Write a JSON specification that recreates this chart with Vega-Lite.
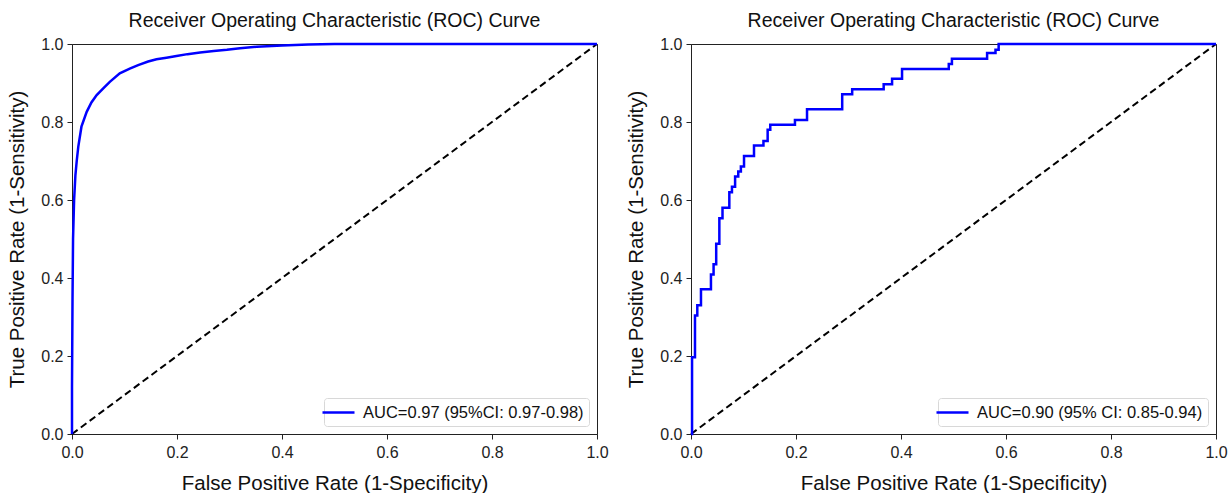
{
  "$schema": "https://vega.github.io/schema/vega-lite/v6.json",
  "background": "white",
  "padding": {"left": 7, "top": 10, "right": 2, "bottom": 0},
  "spacing": 17,
  "datasets": {
    "diag": [{"fpr": 0, "tpr": 0}, {"fpr": 1, "tpr": 1}],
    "left_roc": [
      {"fpr": 0, "tpr": 0, "series": "AUC=0.97 (95%CI: 0.97-0.98)"},
      {"fpr": 0, "tpr": 0.12, "series": "AUC=0.97 (95%CI: 0.97-0.98)"},
      {"fpr": 0.001, "tpr": 0.35, "series": "AUC=0.97 (95%CI: 0.97-0.98)"},
      {"fpr": 0.002, "tpr": 0.5, "series": "AUC=0.97 (95%CI: 0.97-0.98)"},
      {"fpr": 0.004, "tpr": 0.6, "series": "AUC=0.97 (95%CI: 0.97-0.98)"},
      {"fpr": 0.0065, "tpr": 0.664, "series": "AUC=0.97 (95%CI: 0.97-0.98)"},
      {"fpr": 0.009, "tpr": 0.7, "series": "AUC=0.97 (95%CI: 0.97-0.98)"},
      {"fpr": 0.012, "tpr": 0.737, "series": "AUC=0.97 (95%CI: 0.97-0.98)"},
      {"fpr": 0.018, "tpr": 0.788, "series": "AUC=0.97 (95%CI: 0.97-0.98)"},
      {"fpr": 0.028, "tpr": 0.826, "series": "AUC=0.97 (95%CI: 0.97-0.98)"},
      {"fpr": 0.037, "tpr": 0.85, "series": "AUC=0.97 (95%CI: 0.97-0.98)"},
      {"fpr": 0.047, "tpr": 0.869, "series": "AUC=0.97 (95%CI: 0.97-0.98)"},
      {"fpr": 0.06, "tpr": 0.887, "series": "AUC=0.97 (95%CI: 0.97-0.98)"},
      {"fpr": 0.072, "tpr": 0.903, "series": "AUC=0.97 (95%CI: 0.97-0.98)"},
      {"fpr": 0.091, "tpr": 0.925, "series": "AUC=0.97 (95%CI: 0.97-0.98)"},
      {"fpr": 0.11, "tpr": 0.937, "series": "AUC=0.97 (95%CI: 0.97-0.98)"},
      {"fpr": 0.126, "tpr": 0.946, "series": "AUC=0.97 (95%CI: 0.97-0.98)"},
      {"fpr": 0.145, "tpr": 0.955, "series": "AUC=0.97 (95%CI: 0.97-0.98)"},
      {"fpr": 0.161, "tpr": 0.961, "series": "AUC=0.97 (95%CI: 0.97-0.98)"},
      {"fpr": 0.18, "tpr": 0.965, "series": "AUC=0.97 (95%CI: 0.97-0.98)"},
      {"fpr": 0.199, "tpr": 0.969, "series": "AUC=0.97 (95%CI: 0.97-0.98)"},
      {"fpr": 0.22, "tpr": 0.974, "series": "AUC=0.97 (95%CI: 0.97-0.98)"},
      {"fpr": 0.244, "tpr": 0.978, "series": "AUC=0.97 (95%CI: 0.97-0.98)"},
      {"fpr": 0.27, "tpr": 0.982, "series": "AUC=0.97 (95%CI: 0.97-0.98)"},
      {"fpr": 0.295, "tpr": 0.985, "series": "AUC=0.97 (95%CI: 0.97-0.98)"},
      {"fpr": 0.32, "tpr": 0.989, "series": "AUC=0.97 (95%CI: 0.97-0.98)"},
      {"fpr": 0.352, "tpr": 0.993, "series": "AUC=0.97 (95%CI: 0.97-0.98)"},
      {"fpr": 0.4, "tpr": 0.996, "series": "AUC=0.97 (95%CI: 0.97-0.98)"},
      {"fpr": 0.45, "tpr": 0.999, "series": "AUC=0.97 (95%CI: 0.97-0.98)"},
      {"fpr": 0.5, "tpr": 1.0, "series": "AUC=0.97 (95%CI: 0.97-0.98)"},
      {"fpr": 1.0, "tpr": 1.0, "series": "AUC=0.97 (95%CI: 0.97-0.98)"}
    ],
    "right_roc": [
      {"fpr": 0, "tpr": 0, "series": "AUC=0.90 (95% CI: 0.85-0.94)"},
      {"fpr": 0.002, "tpr": 0.197, "series": "AUC=0.90 (95% CI: 0.85-0.94)"},
      {"fpr": 0.0076, "tpr": 0.304, "series": "AUC=0.90 (95% CI: 0.85-0.94)"},
      {"fpr": 0.012, "tpr": 0.33, "series": "AUC=0.90 (95% CI: 0.85-0.94)"},
      {"fpr": 0.019, "tpr": 0.371, "series": "AUC=0.90 (95% CI: 0.85-0.94)"},
      {"fpr": 0.038, "tpr": 0.409, "series": "AUC=0.90 (95% CI: 0.85-0.94)"},
      {"fpr": 0.043, "tpr": 0.435, "series": "AUC=0.90 (95% CI: 0.85-0.94)"},
      {"fpr": 0.048, "tpr": 0.488, "series": "AUC=0.90 (95% CI: 0.85-0.94)"},
      {"fpr": 0.054, "tpr": 0.553, "series": "AUC=0.90 (95% CI: 0.85-0.94)"},
      {"fpr": 0.06, "tpr": 0.58, "series": "AUC=0.90 (95% CI: 0.85-0.94)"},
      {"fpr": 0.073, "tpr": 0.62, "series": "AUC=0.90 (95% CI: 0.85-0.94)"},
      {"fpr": 0.078, "tpr": 0.634, "series": "AUC=0.90 (95% CI: 0.85-0.94)"},
      {"fpr": 0.084, "tpr": 0.66, "series": "AUC=0.90 (95% CI: 0.85-0.94)"},
      {"fpr": 0.09, "tpr": 0.673, "series": "AUC=0.90 (95% CI: 0.85-0.94)"},
      {"fpr": 0.095, "tpr": 0.686, "series": "AUC=0.90 (95% CI: 0.85-0.94)"},
      {"fpr": 0.101, "tpr": 0.713, "series": "AUC=0.90 (95% CI: 0.85-0.94)"},
      {"fpr": 0.12, "tpr": 0.74, "series": "AUC=0.90 (95% CI: 0.85-0.94)"},
      {"fpr": 0.138, "tpr": 0.751, "series": "AUC=0.90 (95% CI: 0.85-0.94)"},
      {"fpr": 0.146, "tpr": 0.78, "series": "AUC=0.90 (95% CI: 0.85-0.94)"},
      {"fpr": 0.151, "tpr": 0.793, "series": "AUC=0.90 (95% CI: 0.85-0.94)"},
      {"fpr": 0.198, "tpr": 0.805, "series": "AUC=0.90 (95% CI: 0.85-0.94)"},
      {"fpr": 0.221, "tpr": 0.833, "series": "AUC=0.90 (95% CI: 0.85-0.94)"},
      {"fpr": 0.288, "tpr": 0.871, "series": "AUC=0.90 (95% CI: 0.85-0.94)"},
      {"fpr": 0.307, "tpr": 0.884, "series": "AUC=0.90 (95% CI: 0.85-0.94)"},
      {"fpr": 0.367, "tpr": 0.897, "series": "AUC=0.90 (95% CI: 0.85-0.94)"},
      {"fpr": 0.383, "tpr": 0.911, "series": "AUC=0.90 (95% CI: 0.85-0.94)"},
      {"fpr": 0.402, "tpr": 0.936, "series": "AUC=0.90 (95% CI: 0.85-0.94)"},
      {"fpr": 0.491, "tpr": 0.949, "series": "AUC=0.90 (95% CI: 0.85-0.94)"},
      {"fpr": 0.497, "tpr": 0.962, "series": "AUC=0.90 (95% CI: 0.85-0.94)"},
      {"fpr": 0.564, "tpr": 0.977, "series": "AUC=0.90 (95% CI: 0.85-0.94)"},
      {"fpr": 0.58, "tpr": 0.985, "series": "AUC=0.90 (95% CI: 0.85-0.94)"},
      {"fpr": 0.586, "tpr": 1.0, "series": "AUC=0.90 (95% CI: 0.85-0.94)"},
      {"fpr": 1.0, "tpr": 1.0, "series": "AUC=0.90 (95% CI: 0.85-0.94)"}
    ]
  },
  "config": {
    "font": "Liberation Sans",
    "view": {"stroke": "#222", "strokeWidth": 1},
    "title": {"font": "Liberation Sans", "fontSize": 19.5, "fontWeight": "normal", "color": "#111", "offset": 5},
    "axis": {
      "grid": false,
      "labelFlush": false,
      "domainColor": "#222",
      "tickColor": "#222",
      "tickSize": 5,
      "labelFont": "Liberation Sans",
      "labelFontSize": 16,
      "labelColor": "#222",
      "titleFont": "Liberation Sans",
      "titleFontSize": 20.5,
      "titleFontWeight": "normal",
      "titleColor": "#111"
    },
    "axisX": {"labelPadding": 5, "titlePadding": 13},
    "axisY": {"labelPadding": 4, "titlePadding": 13},
    "legend": {
      "orient": "bottom-right",
      "offset": 8,
      "title": null,
      "symbolType": "M-2,0H2",
      "symbolSize": 256,
      "symbolStrokeWidth": 2.5,
      "labelOffset": 15,
      "labelFont": "Liberation Sans",
      "labelFontSize": 16.5,
      "labelColor": "#111",
      "labelLimit": 400,
      "padding": 5,
      "fillColor": "white",
      "strokeColor": "#d8d8d8",
      "cornerRadius": 3
    }
  },
  "hconcat": [
    {
      "title": "Receiver Operating Characteristic (ROC) Curve",
      "width": 525,
      "height": 390,
      "layer": [
        {
          "data": {"name": "diag"},
          "mark": {"type": "line", "color": "black", "strokeDash": [7, 4], "strokeWidth": 2},
          "encoding": {
            "x": {"field": "fpr", "type": "quantitative"},
            "y": {"field": "tpr", "type": "quantitative"}
          }
        },
        {
          "data": {"name": "left_roc"},
          "mark": {"type": "line", "strokeWidth": 2.5},
          "encoding": {
            "x": {"field": "fpr", "type": "quantitative", "title": "False Positive Rate (1-Specificity)",
                  "scale": {"domain": [0, 1], "nice": false},
                  "axis": {"values": [0, 0.2, 0.4, 0.6, 0.8, 1.0], "format": ".1f"}},
            "y": {"field": "tpr", "type": "quantitative", "title": "True Positive Rate (1-Sensitivity)",
                  "scale": {"domain": [0, 1], "nice": false},
                  "axis": {"values": [0, 0.2, 0.4, 0.6, 0.8, 1.0], "format": ".1f"}},
            "color": {"field": "series", "type": "nominal", "scale": {"range": ["#0000ff"]}},
            "order": {"field": "fpr"}
          }
        }
      ]
    },
    {
      "title": "Receiver Operating Characteristic (ROC) Curve",
      "width": 525,
      "height": 390,
      "layer": [
        {
          "data": {"name": "diag"},
          "mark": {"type": "line", "color": "black", "strokeDash": [7, 4], "strokeWidth": 2},
          "encoding": {
            "x": {"field": "fpr", "type": "quantitative"},
            "y": {"field": "tpr", "type": "quantitative"}
          }
        },
        {
          "data": {"name": "right_roc"},
          "mark": {"type": "line", "strokeWidth": 2.5, "interpolate": "step-after"},
          "encoding": {
            "x": {"field": "fpr", "type": "quantitative", "title": "False Positive Rate (1-Specificity)",
                  "scale": {"domain": [0, 1], "nice": false},
                  "axis": {"values": [0, 0.2, 0.4, 0.6, 0.8, 1.0], "format": ".1f"}},
            "y": {"field": "tpr", "type": "quantitative", "title": "True Positive Rate (1-Sensitivity)",
                  "scale": {"domain": [0, 1], "nice": false},
                  "axis": {"values": [0, 0.2, 0.4, 0.6, 0.8, 1.0], "format": ".1f"}},
            "color": {"field": "series", "type": "nominal", "scale": {"range": ["#0000ff"]}},
            "order": {"field": "fpr"}
          }
        }
      ]
    }
  ],
  "resolve": {"scale": {"color": "independent"}}
}
